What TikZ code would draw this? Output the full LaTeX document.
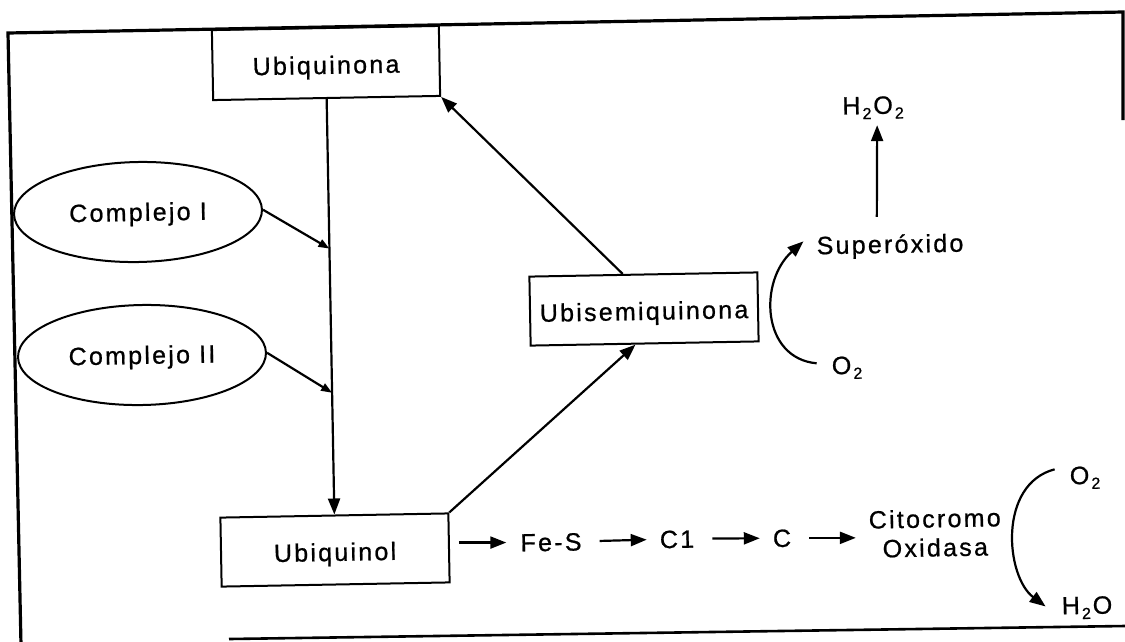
\documentclass[tikz,border=0pt]{standalone}
\usepackage{fontspec}
\setmainfont{Liberation Sans}[LetterSpace=9, FakeBold=0.8]
\usetikzlibrary{arrows.meta,shapes.geometric,calc}

% lowered, smaller subscript digit for the formulae
\newcommand{\chemsub}[1]{\kern2pt\raisebox{-5pt}{\fontsize{16}{16}\selectfont #1}\kern2pt}

\begin{document}
\begin{tikzpicture}[x=1pt,y=-1pt,
  every node/.style={rotate=1.05, font=\fontsize{25}{29}\selectfont},
  txt/.style={inner sep=0pt, text height=17.9pt, text depth=0pt},
  qbox/.style={draw, line width=2pt, rectangle, inner sep=0pt,
    minimum width=228pt, minimum height=70pt, text height=21.9pt, text depth=0pt},
  oval/.style={draw, line width=2pt, ellipse, inner sep=0pt,
    minimum width=248pt, minimum height=100pt, text height=17.9pt, text depth=0pt},
  frameline/.style={line width=3.2pt},
  flow/.style={line width=2.2pt, -{Triangle[length=16pt,width=12pt]}},
  feedin/.style={line width=2.2pt, -{Triangle[length=11pt,width=8pt]}},
  step arrow/.style={flow, shorten <=18pt, shorten >=13pt},
]
\useasboundingbox (0,0) rectangle (1125,641);
\clip (0,0) rectangle (1125,641);

% outer frame
\draw[frameline] (1123,120) -- (1123,12) -- (8,33) -- (21,645);
\draw[frameline, line width=2.6pt] (229,639) -- (1125,626);

% quinone pool
\node[qbox, minimum width=227pt] (UQ) at (326,63) {Ubiquinona};
\node[oval] (CI) at (138,212) {Complejo I};
\node[oval] (CII) at (142,355) {Complejo II};
\node[qbox, minimum height=69pt] (UQL) at (335,550) {Ubiquinol};
\node[qbox, minimum height=69pt] (US) at (644,309) {Ubisemiquinona};

% electron transport chain
\node[txt] (FeS) at (551,542) {Fe-S};
\node[txt] (C1) at (677,539) {C1};
\node[txt] (C) at (782,538) {C};
\node[inner sep=0pt, align=center] (Cito) at (935,533) {Citocromo\\Oxidasa};
\node[txt] (O2r) at (1086,475) {O\chemsub{2}};
\node[txt] (HO) at (1087,605) {H\chemsub{2}O};

% superoxide branch
\node[txt] (Sup) at (890,244) {Superóxido};
\node[txt] (HOO) at (874,105) {H\chemsub{2}O\chemsub{2}};
\node[txt] (O2m) at (848,365) {O\chemsub{2}};

% Q cycle
\draw[flow] (UQ.south) -- (UQL.north);
\coordinate (j1) at ($(UQ.south)!0.36!(UQL.north)$);
\coordinate (j2) at ($(UQ.south)!0.707!(UQL.north)$);
\draw[feedin] (CI.east) -- (j1);
\draw[feedin] (CII.east) -- (j2);
\draw[flow] ($(US.north west)!0.41!(US.north east)$) -- (UQ.south east);
\draw[flow] (UQL.north east) -- ($(US.south west)!0.46!(US.south east)$);

% chain arrows
\draw[flow, shorten <=9pt, shorten >=14pt] (UQL.east |- FeS.west) -- (FeS.west);
\draw[step arrow] (FeS.east) -- (C1.west);
\draw[step arrow] (C1.east) -- (C.west);
\draw[step arrow] (C.east) -- (C.east -| Cito.west);

% oxygen reactions
\draw[flow] ($(Sup.north)+(-13,-18)$) -- ($(HOO.south)+(3,11)$);
\draw[flow] ($(O2m.west)+(-15,-2)$) .. controls +(-55,-5) and +(-45,40) .. ($(Sup.west)+(-13,-4)$);
\draw[flow] ($(O2r.west)+(-15,-6)$) .. controls +(-57,15) and +(-40,-30) .. ($(HO.west)+(-16,1)$);
\end{tikzpicture}
\end{document}
